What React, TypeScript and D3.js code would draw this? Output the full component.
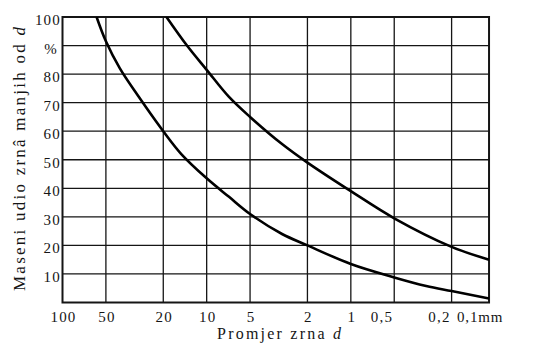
import React from 'react';
import * as d3 from 'd3';

// grain diameter (mm) ticks, left to right
const xTicks = [100, 50, 20, 10, 5, 2, 1, 0.5, 0.2];
const xTickLabels = ['100', '50', '20', '10', '5', '2', '1', '0,5', '0,2'];
const xEdgeLabel = '0,1mm';
const xLeft = 100;
const xRight = 0.11; // frame edge sits a little before 0.1 in the original

const yTicks = [10, 20, 30, 40, 50, 60, 70, 80, 90, 100];
const yTickLabels = ['10', '20', '30', '40', '50', '60', '70', '80', '%', '100'];

// [diameter mm, mass % finer]
const curveFine = [
  [58, 100], [50, 91.5], [40, 82], [30, 72.5], [20, 60], [15, 52], [10, 43.5],
  [7, 37], [5, 31], [3, 24], [2, 20], [1, 13.5], [0.5, 8.8], [0.3, 5.8], [0.2, 4], [0.11, 1.4],
];
const curveCoarse = [
  [19, 100], [13.7, 90], [10, 81.5], [7, 72], [5, 65], [3, 55.5], [2, 49],
  [1, 39], [0.5, 29.5], [0.2, 19.5], [0.11, 15],
];

const W = 534;
const H = 344;
const left = 62.5;
const top = 17;
const bottom = 302.5;
const ink = '#151515';
const serif = { fontFamily: "'Liberation Serif'" };

const x = d3.scaleLog().domain([xLeft, 0.1]).range([left, 495]);
const y = d3.scaleLinear().domain([0, 100]).range([bottom, top]);
const right = x(xRight);

const line = d3.line<number[]>()
  .x(d => x(d[0]))
  .y(d => y(d[1]))
  .curve(d3.curveCatmullRom.alpha(0.5));

export default function App() {
  return (
    <svg width={W} height={H} style={{ position: 'fixed', left: 0, top: 0, background: '#fff' }}>
      <defs>
        <clipPath id="plotclip">
          <rect x={left} y={top} width={right - left} height={bottom - top} />
        </clipPath>
      </defs>

      <g stroke={ink} strokeWidth={1.3}>
        {xTicks.slice(1).map(d => (
          <line key={'v' + d} x1={x(d)} x2={x(d)} y1={top} y2={bottom} />
        ))}
        {yTicks.slice(0, -1).map(d => (
          <line key={'h' + d} x1={left} x2={right} y1={y(d)} y2={y(d)} />
        ))}
      </g>
      <rect x={left} y={top} width={right - left} height={bottom - top} fill="none" stroke={ink} strokeWidth={2} />

      <g clipPath="url(#plotclip)" fill="none" stroke="#000" strokeWidth={2.6}>
        {[curveFine, curveCoarse].map((c, i) => (
          <path key={i} d={line(c) || ''} />
        ))}
      </g>

      <g fill={ink} fontSize={15} letterSpacing={1.2} textAnchor="end" style={serif}>
        {yTicks.map((d, i) => (
          <text key={d} x={yTickLabels[i] === '%' ? 58 : 61} y={y(d) + 8}>{yTickLabels[i]}</text>
        ))}
      </g>

      <g fill={ink} fontSize={15} letterSpacing={1.2} style={serif}>
        {xTicks.map((d, i) => {
          const dec = xTickLabels[i].includes(',');
          return (
            <text key={d} x={dec ? x(d) - 1 : x(d) + 1} y={322} textAnchor={dec ? 'end' : 'middle'}>
              {xTickLabels[i]}
            </text>
          );
        })}
        <text x={right - 32} y={322} letterSpacing={0.8}>{xEdgeLabel}</text>
      </g>

      <text x={217} y={339} fontSize={16} fill={ink} style={serif} textLength={124} lengthAdjust="spacing">
        Promjer zrna <tspan fontStyle="italic">d</tspan>
      </text>
      <text
        transform="translate(25,159) rotate(-90)"
        textAnchor="middle"
        fontSize={17}
        fill={ink}
        style={serif}
        textLength={264}
        lengthAdjust="spacing"
      >
        Maseni udio zrnâ manjih od <tspan fontStyle="italic">d</tspan>
      </text>
    </svg>
  );
}
